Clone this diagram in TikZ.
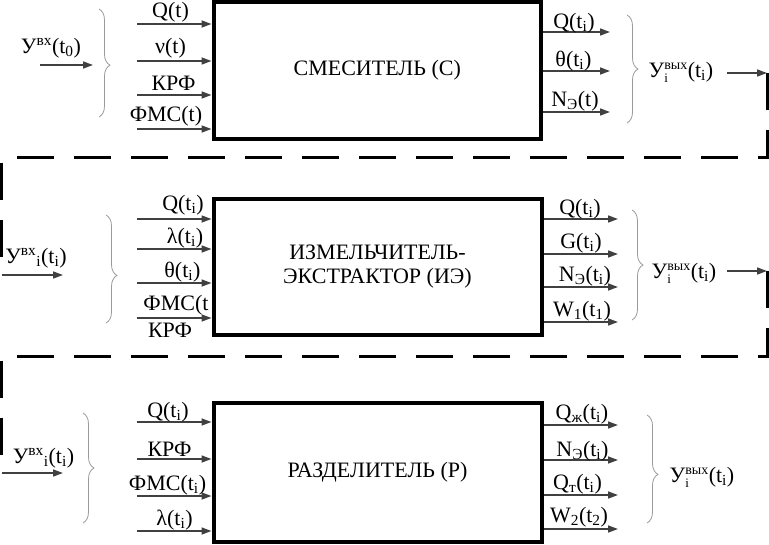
\documentclass[tikz,border=0pt]{standalone}
\usepackage{fontspec}
\setmainfont{Liberation Serif}
\usetikzlibrary{arrows.meta,decorations.pathreplacing}
\definecolor{arrowgray}{HTML}{404040}
\definecolor{bracegray}{HTML}{9A9A9A}
\newcommand{\fs}{\fontsize{22}{26}\selectfont}
\newcommand{\lo}[1]{\textsubscript{#1}}
\newcommand{\hi}[1]{\textsuperscript{#1}}
\newcommand{\ystack}[2]{$^{\mbox{\fontsize{14}{14}\selectfont #2}}_{\mbox{\fontsize{13}{13}\selectfont #1}}$}
\begin{document}
\begin{tikzpicture}[x=1pt,y=1pt,
  blk/.style={draw=black, line width=4pt, inner sep=0pt, align=center, font=\fs},
  lbl/.style={inner sep=0pt, anchor=base, font=\fs},
  sig/.style={draw=arrowgray, line width=1.6pt, -{Triangle[length=10pt,width=7pt]}},
  brc/.style={draw=bracegray, line width=0.8pt, decorate, decoration={brace, amplitude=11pt, aspect=#1}},
  brc/.default=0.5,
  fb/.style={draw=black, line width=3pt, dash pattern=on 37pt off 20pt}]
\useasboundingbox (0,0) rectangle (769,-544);

% ---------- boxes ----------
\node[blk, minimum width=327.5pt, minimum height=136.5pt] (b1) at (377.25,-70.25) {СМЕСИТЕЛЬ (С)};
\node[blk, minimum width=328pt, minimum height=136.5pt, execute at begin node={\setlength{\baselineskip}{24pt}}] (b2) at (377.5,-266.75) {ИЗМЕЛЬЧИТЕЛЬ-\\ЭКСТРАКТОР (ИЭ)};
\node[blk, minimum width=328pt, minimum height=139pt] (b3) at (377.5,-472.5) {РАЗДЕЛИТЕЛЬ (Р)};

% ---------- feedback dashed lines ----------
\coordinate (r1) at (767,-73);
\coordinate (r2) at (767,-271);
\coordinate (l2) at (1.5,-275);
\coordinate (l3) at (1.5,-473);
\draw[fb] (r1) -- (767,-157.5) -- (1.5,-157.5) -- (l2);
\draw[fb] (r2) -- (767,-356) -- (1.5,-356) -- (l3);

% ---------- block 1 ----------
\foreach \n/\y in {1/24,2/61,3/95,4/129}{
  \coordinate (a1\n) at (137,-\y);
  \draw[sig] (a1\n) -- (a1\n -| b1.west);
}
\node[lbl] (t11) at (170.5,-17) {Q(t)};
\node[lbl] (t12) at (170.5,-53) {ν(t)};
\node[lbl] (t13) at (173.5,-90) {КРФ};
\node[lbl] (t14) at (166,-121) {ФМС(t)};
\foreach \n/\y in {1/32,2/71,3/112}{
  \coordinate (e1\n) at (610,-\y);
  \draw[sig] (e1\n -| b1.east) -- (e1\n);
}
\node[lbl] (o11) at (574,-28) {Q(t\lo{i})};
\node[lbl] (o12) at (573.5,-66) {θ(t\lo{i})};
\node[lbl] (o13) at (575,-106) {N\lo{Э}(t)};
\node[lbl] (y1) at (51,-53) {У\hi{вх}(t\lo{0})};
\coordinate (y1a) at (40,-65);
\coordinate (y1b) at (93,-65);
\draw[sig] (y1a) -- (y1b);
\draw[brc=0.52] (99,-9) -- (99,-117);
\draw[brc] (627,-15) -- (627,-123);
\node[lbl] (z1) at (681,-77) {У\ystack{i}{вых}(t\lo{i})};
\coordinate (z1a) at (727,-73);
\draw[sig] (z1a) -- (r1);

% ---------- block 2 ----------
\foreach \n/\y in {1/219,2/249,3/283,4/318}{
  \coordinate (a2\n) at (137,-\y);
  \draw[sig] (a2\n) -- (a2\n -| b2.west);
}
\node[lbl] (t21) at (183,-210) {Q(t\lo{i})};
\node[lbl] (t22) at (185,-243) {λ(t\lo{i})};
\node[lbl] (t23) at (182.5,-277) {θ(t\lo{i})};
\node[lbl] (t24) at (176,-310) {ФМС(t};
\node[lbl] (t25) at (170,-337) {КРФ};
\foreach \n/\y in {1/219,2/254,3/287,4/322}{
  \coordinate (e2\n) at (618,-\y);
  \draw[sig] (e2\n -| b2.east) -- (e2\n);
}
\node[lbl] (o21) at (580,-214) {Q(t\lo{i})};
\node[lbl] (o22) at (581,-248) {G(t\lo{i})};
\node[lbl] (o23) at (585,-281) {N\lo{Э}(t\lo{i})};
\node[lbl] (o24) at (582,-316) {W\lo{1}(t\lo{1})};
\node[lbl] (y2) at (36,-263) {У\hi{вх}\lo{i}(t\lo{i})};
\coordinate (y2b) at (63,-275);
\draw[sig] (l2) -- (y2b);
\draw[brc=0.56] (106,-215) -- (106,-323);
\draw[brc] (632,-210) -- (632,-320);
\node[lbl] (z2) at (684,-278) {У\ystack{i}{вых}(t\lo{i})};
\coordinate (z2a) at (727,-271);
\draw[sig] (z2a) -- (r2);

% ---------- block 3 ----------
\foreach \n/\y in {1/422,2/459,3/496,4/531}{
  \coordinate (a3\n) at (137,-\y);
  \draw[sig] (a3\n) -- (a3\n -| b3.west);
}
\node[lbl] (t31) at (168,-417) {Q(t\lo{i})};
\node[lbl] (t32) at (169.5,-456) {КРФ};
\node[lbl] (t33) at (167.5,-490) {ФМС(t\lo{i})};
\node[lbl] (t34) at (174.5,-525) {λ(t\lo{i})};
\foreach \n/\y in {1/425,2/460,3/495,4/529}{
  \coordinate (e3\n) at (618,-\y);
  \draw[sig] (e3\n -| b3.east) -- (e3\n);
}
\node[lbl] (o31) at (582,-419) {Q\lo{ж}(t\lo{i})};
\node[lbl] (o32) at (582.5,-456) {N\lo{Э}(t\lo{i})};
\node[lbl] (o33) at (577.5,-489) {Q\lo{т}(t\lo{i})};
\node[lbl] (o34) at (579,-522) {W\lo{2}(t\lo{2})};
\node[lbl] (y3) at (43.5,-463) {У\hi{вх}\lo{i}(t\lo{i})};
\coordinate (y3b) at (63,-473);
\draw[sig] (l3) -- (y3b);
\draw[brc] (83,-413) -- (83,-523);
\draw[brc=0.55] (647,-415) -- (647,-523);
\node[lbl] (z3) at (702,-482) {У\ystack{i}{вых}(t\lo{i})};
\end{tikzpicture}
\end{document}
